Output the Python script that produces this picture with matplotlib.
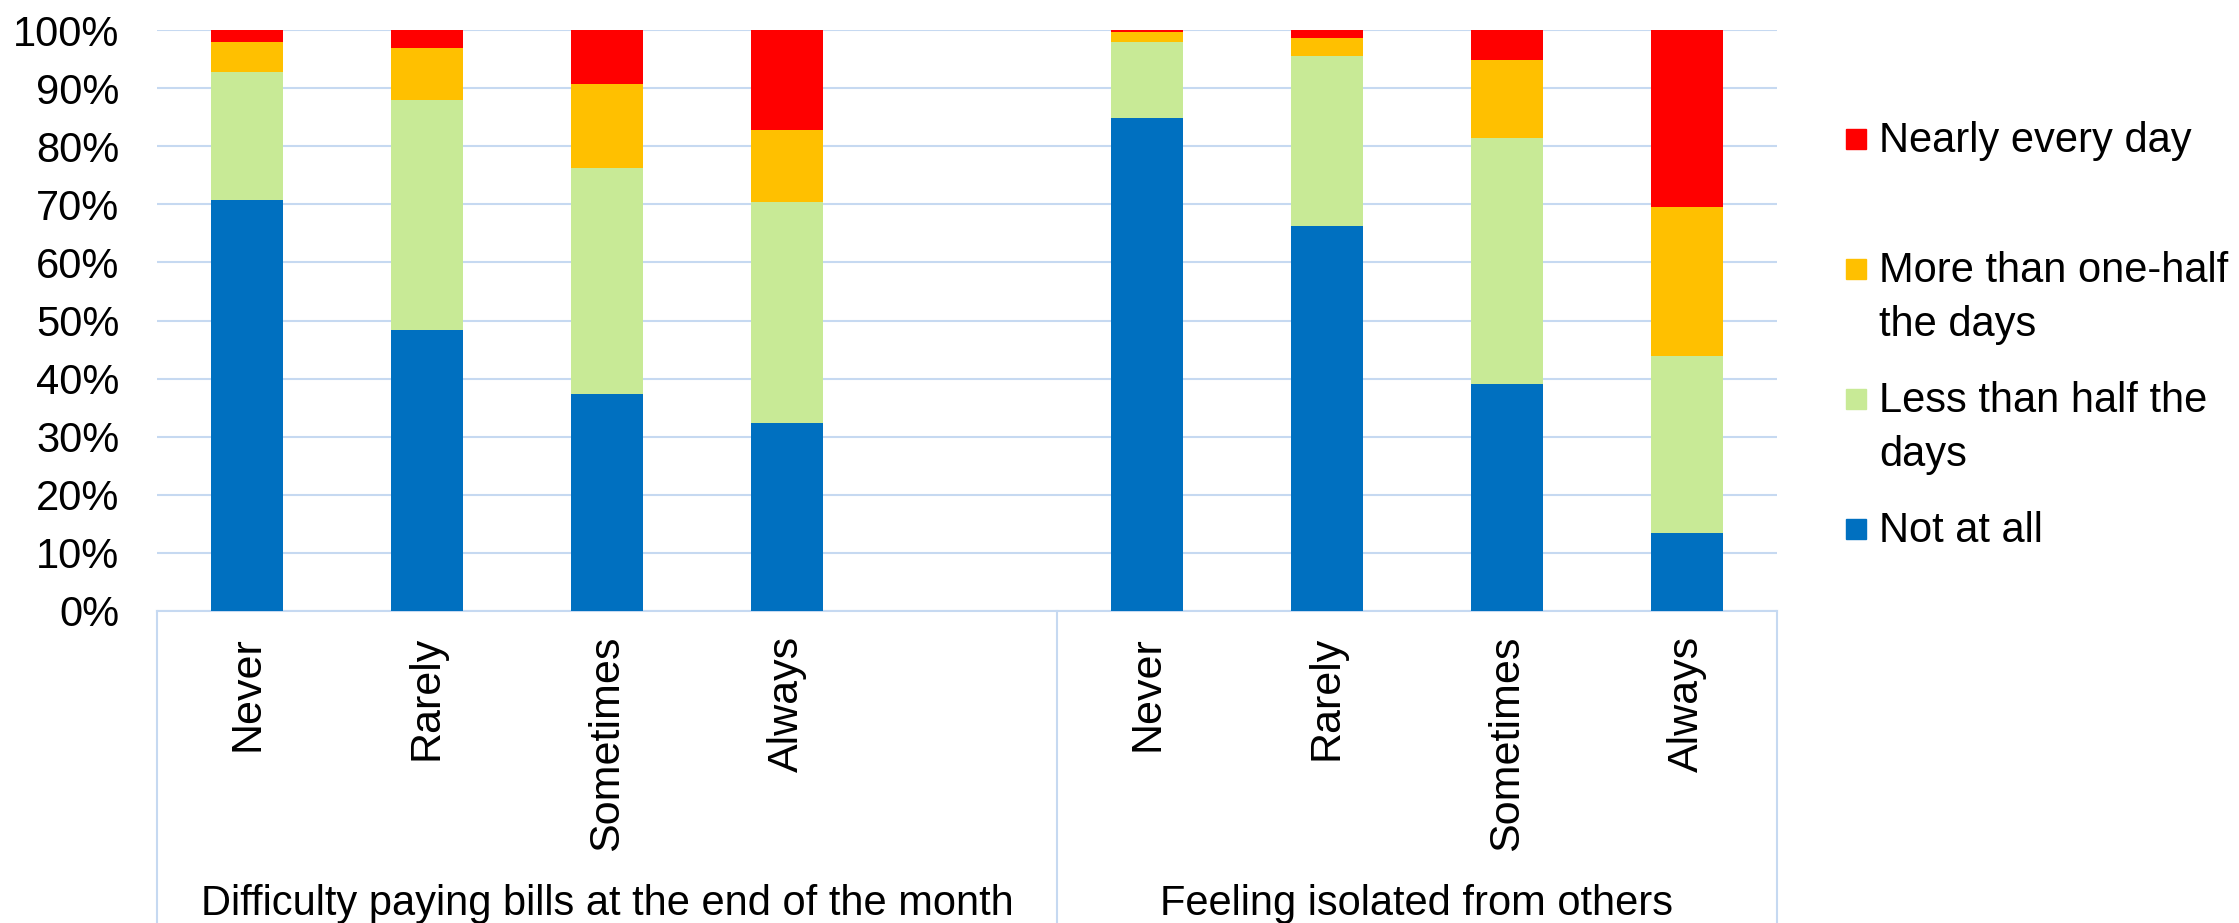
import numpy as np
import matplotlib
matplotlib.use("Agg")
import matplotlib.pyplot as plt
from matplotlib.patches import Rectangle
from matplotlib.lines import Line2D

plt.rcParams['font.family'] = ['Liberation Sans', 'DejaVu Sans']

# categories (slot 4 is the empty gap between the two groups)
freq_labels = ["Never", "Rarely", "Sometimes", "Always"]
groups = ["Difficulty paying bills at the end of the month", "Feeling isolated from others"]
series = ["Not at all", "Less than half the days", "More than one-half the days", "Nearly every day"]
legend_text = ["Not at all", "Less than half the\ndays", "More than one-half\nthe days", "Nearly every day"]
colors = ["#0070C0", "#C8EA96", "#FFC000", "#FF0000"]

# percentages, bills group then isolated group
not_at_all = [70.7, 48.3, 37.3, 32.4, 84.9, 66.2, 39.0, 13.5]
less_half = [22.1, 39.6, 38.9, 38.0, 13.0, 29.3, 42.4, 30.4]
more_half = [5.1, 9.0, 14.5, 12.4, 1.7, 3.1, 13.5, 25.7]
nearly_every = [2.1, 3.1, 9.3, 17.2, 0.4, 1.4, 5.1, 30.4]

W, H = 2239, 923
fig = plt.figure(figsize=(W / 100, H / 100), dpi=100)

def fx(px):
    return px / W

def fy(py):
    return 1 - py / H

ax = fig.add_axes([fx(157), fy(611), fx(1777) - fx(157), fy(30) - fy(611)])

pos = np.array([0, 1, 2, 3, 5, 6, 7, 8])
data = [not_at_all, less_half, more_half, nearly_every]
bottom = np.zeros(len(pos))
for vals, c, name in zip(data, colors, series):
    vals = np.array(vals)
    ax.bar(pos, vals, 0.4, bottom=bottom, color=c, label=name, zorder=3)
    bottom += vals

grid_c = "#C6D9F1"
ax.set_xlim(-0.5, 8.5)
ax.set_ylim(0, 100)
ax.set_yticks(np.arange(0, 101, 10))
ax.set_yticklabels([f"{v}%" for v in range(0, 101, 10)], fontsize=30)
ax.tick_params(axis='y', length=0, pad=27)
ax.set_xticks([])
ax.yaxis.grid(True, color=grid_c, linewidth=1.5, zorder=0)
for s in ["top", "right", "left"]:
    ax.spines[s].set_visible(False)
ax.spines["bottom"].set_color(grid_c)
ax.spines["bottom"].set_linewidth(1.5)

# category labels below the axis
for i, p in enumerate(pos):
    ax.text(p, -4.3, freq_labels[i % 4], rotation=90, ha='center', va='top',
            fontsize=31, clip_on=False)

# group labels and separators
ax.text(2.0, -52.3, groups[0], ha='center', va='baseline', fontsize=30, clip_on=False)
ax.text(6.5, -52.3, groups[1], ha='center', va='baseline', fontsize=30, clip_on=False)
for xp in [fx(157), fx(1057), fx(1777)]:
    fig.add_artist(Line2D([xp, xp], [fy(611), 0], color=grid_c, linewidth=1.5))

# legend drawn by hand to follow the original spacing
leg_top = [511, 381, 251, 121]
leg_mark = [529, 399, 269, 139]
for lab, c, yt, ym in zip(legend_text, colors, leg_top, leg_mark):
    fig.add_artist(Rectangle((fx(1846), fy(ym + 10)), fx(20), fy(0) - fy(20),
                             color=c, transform=fig.transFigure))
    fig.text(fx(1879), fy(yt), lab, fontsize=30, ha='left', va='top', linespacing=1.45)

fig.savefig("out.png", dpi=100)
